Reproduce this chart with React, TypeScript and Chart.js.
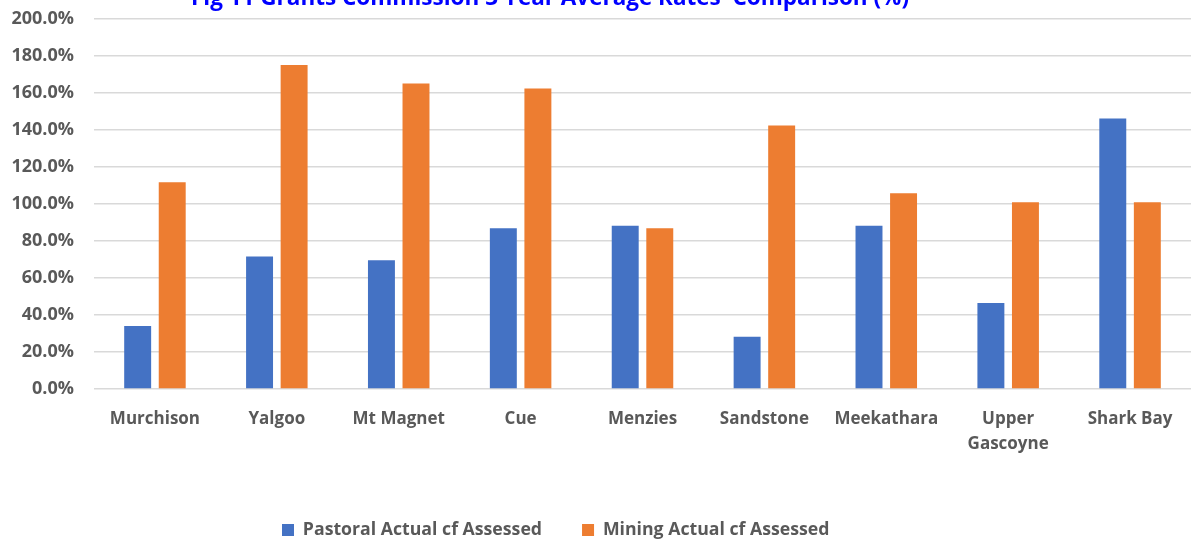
import React, { useEffect, useRef } from "react";
import { Chart, registerables } from "chart.js";

Chart.register(...registerables);

const TITLE = "Fig 11 Grants Commission 3 Year Average Rates  Comparison (%)";
const categories: (string | string[])[] = [
  "Murchison",
  "Yalgoo",
  "Mt Magnet",
  "Cue",
  "Menzies",
  "Sandstone",
  "Meekathara",
  ["Upper", "Gascoyne"],
  "Shark Bay",
];
const pastoral = [34.0, 71.6, 69.6, 86.9, 88.3, 28.3, 88.3, 46.5, 146.2];
const mining = [111.8, 175.1, 165.2, 162.5, 86.9, 142.5, 105.8, 100.9, 100.9];
const seriesNames = ["Pastoral Actual cf Assessed", "Mining Actual cf Assessed"];
const yTickMax = 200;
const yTickStep = 20;

const FONT = "'Open Sans', Lato, sans-serif";
const GREY = "#595959";
const LEGEND_PAD = 40;
const LEGEND_FONT = 17.7;

const titlePlugin = {
  id: "clippedTitle",
  afterDraw(chart: any) {
    const ctx = chart.ctx;
    ctx.save();
    ctx.font = `bold 22.5px ${FONT}`;
    ctx.fillStyle = "#0000FF";
    ctx.textAlign = "center";
    ctx.textBaseline = "alphabetic";
    ctx.fillText(TITLE, 550, 5);
    ctx.restore();
  },
};

const legendPlace = {
  id: "legendPlace",
  afterLayout(chart: any) {
    const lg = chart.legend;
    if (lg) {
      const h = lg.bottom - lg.top;
      const w = lg.right - lg.left;
      lg.left = 282 - LEGEND_PAD;
      lg.right = lg.left + w;
      lg.top = 530 - LEGEND_PAD - LEGEND_FONT / 2;
      lg.bottom = lg.top + h;
    }
  },
};

export default function App() {
  const ref = useRef<HTMLCanvasElement | null>(null);
  useEffect(() => {
    if (!ref.current) return;
    const chart = new Chart(ref.current, {
      type: "bar",
      data: {
        labels: categories as any,
        datasets: [
          {
            label: seriesNames[0],
            data: pastoral,
            backgroundColor: "#4472C4",
            borderWidth: 0,
            categoryPercentage: 0.567,
            barPercentage: 0.78,
          },
          {
            label: seriesNames[1],
            data: mining,
            backgroundColor: "#ED7D31",
            borderWidth: 0,
            categoryPercentage: 0.567,
            barPercentage: 0.78,
          },
        ],
      },
      plugins: [titlePlugin, legendPlace],
      options: {
        responsive: false,
        animation: false,
        layout: { padding: { top: 19, right: 12, bottom: 0, left: 0 } },
        plugins: {
          title: { display: false },
          tooltip: { enabled: false },
          legend: {
            position: "bottom",
            align: "start",
            labels: {
              font: { family: FONT, size: LEGEND_FONT, weight: "bold" },
              color: GREY,
              boxWidth: 12,
              boxHeight: 12,
              padding: LEGEND_PAD,
            },
          },
        },
        scales: {
          x: {
            grid: { display: false },
            border: { display: false },
            ticks: {
              font: { family: FONT, size: 17, weight: "bold", lineHeight: 1.5 },
              color: GREY,
              padding: 9,
              maxRotation: 0,
              autoSkip: false,
            },
            afterFit(s: any) {
              const lgH = s.chart.legend ? s.chart.legend.height || 0 : 0;
              s.height = 540 - 389 - lgH;
            },
          },
          y: {
            min: 0,
            max: yTickMax,
            ticks: {
              stepSize: yTickStep,
              font: { family: FONT, size: 18, weight: "bold" },
              color: GREY,
              padding: 20,
              callback: (v: any) => Number(v).toFixed(1) + "%",
            },
            grid: { color: "#D9D9D9", lineWidth: 1.5, drawTicks: false },
            border: { display: false },
            afterFit(s: any) {
              s.width = 94;
              s.paddingTop = 0;
              s.paddingBottom = 0;
            },
          },
        },
      },
    });
    return () => chart.destroy();
  }, []);
  return (
    <div style={{ position: "fixed", left: 0, top: 0, width: 1203, height: 540, background: "#fff" }}>
      <canvas ref={ref} width={1203} height={540} style={{ width: 1203, height: 540, display: "block" }} />
    </div>
  );
}
